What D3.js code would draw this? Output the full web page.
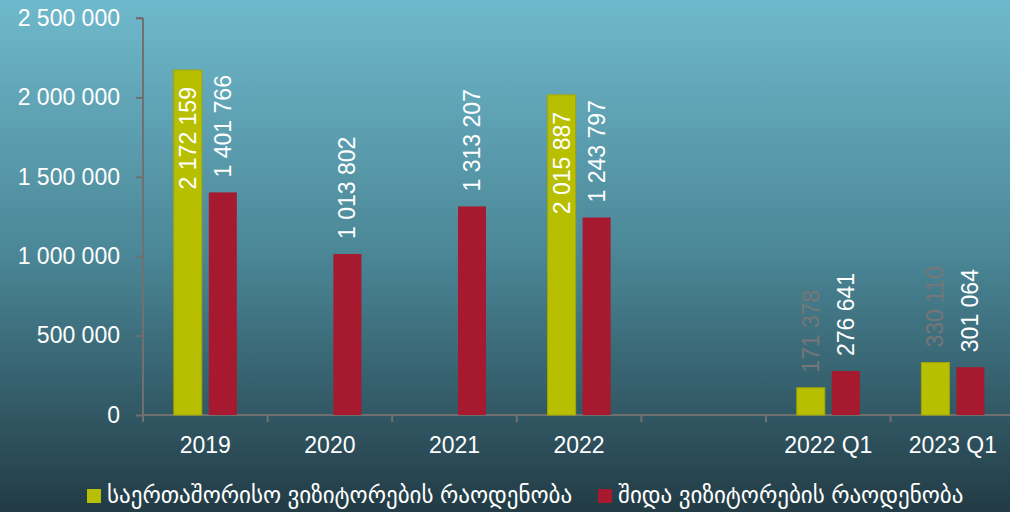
<!DOCTYPE html>
<html>
<head>
<meta charset="utf-8">
<script src="https://cdn.jsdelivr.net/npm/d3@7"></script>
<style>
  body { margin: 0; }
  svg { display: block; font-family: "Liberation Sans", Arial, "DejaVu Sans", sans-serif; }
</style>
</head>
<body>
<svg width="1010" height="512"></svg>
<script>
// chart data
const categories = ["2019", "2020", "2021", "2022", "", "2022 Q1", "2023 Q1"];
const series = ["intl", "domestic"];
const seriesNames = ["საერთაშორისო ვიზიტორების რაოდენობა", "შიდა ვიზიტორების რაოდენობა"];
const intlValues = [2172159, null, null, 2015887, null, 171378, 330110];
const domesticValues = [1401766, 1013802, 1313207, 1243797, null, 276641, 301064];
const yTicks = [0, 500000, 1000000, 1500000, 2000000, 2500000];

const color = { intl: "#b8bf00", domestic: "#a6192e" };

const svg = d3.select("svg"),
    W = 1010, H = 512,
    margin = { top: 18, left: 143, bottom: 97 },
    plotBottom = H - margin.bottom;

// background gradient
const defs = svg.append("defs");
const grad = defs.append("linearGradient")
    .attr("id", "bg").attr("x1", 0).attr("y1", 0).attr("x2", 0).attr("y2", 1);
grad.append("stop").attr("offset", "0%").attr("stop-color", "#6fb9cc");
grad.append("stop").attr("offset", "50%").attr("stop-color", "#4a8696");
grad.append("stop").attr("offset", "100%").attr("stop-color", "#223b45");
svg.append("rect").attr("width", W).attr("height", H).attr("fill", "url(#bg)");

const x = d3.scaleBand()
    .domain(categories.map((c, i) => i))
    .range([margin.left, margin.left + 7 * 124.6]);

const y = d3.scaleLinear()
    .domain([0, 2500000])
    .range([plotBottom, margin.top]);

const groupW = 63;
const xSub = d3.scaleBand()
    .domain(series)
    .range([x.bandwidth() / 2 - groupW / 2, x.bandwidth() / 2 + groupW / 2])
    .paddingInner(0.2);

const fmt = d3.formatLocale({ decimal: ",", thousands: " ", grouping: [3], currency: ["", ""] }).format(",d");

// y axis
const yAxis = svg.append("g")
    .attr("transform", `translate(${margin.left},0)`)
    .call(d3.axisLeft(y).tickValues(yTicks).tickSize(7).tickPadding(16).tickFormat(fmt));
yAxis.select(".domain").attr("stroke", "#707070").attr("stroke-width", 2).attr("d", `M0,${y(2500000)}V${plotBottom}M-7,${y(2500000)}H0`);
yAxis.selectAll(".tick line").attr("stroke", "#707070").attr("stroke-width", 2);
yAxis.selectAll(".tick text").attr("fill", "#fff").style("font-size", "23px");

// x axis line and boundary ticks
const xAxis = svg.append("g");
xAxis.append("line")
    .attr("x1", margin.left).attr("x2", x.range()[1])
    .attr("y1", plotBottom).attr("y2", plotBottom)
    .attr("stroke", "#707070").attr("stroke-width", 2);
xAxis.selectAll(".xt")
    .data(d3.range(categories.length + 1))
    .enter().append("line")
    .attr("x1", i => margin.left + i * x.step())
    .attr("x2", i => margin.left + i * x.step())
    .attr("y1", plotBottom).attr("y2", plotBottom + 7)
    .attr("stroke", "#707070").attr("stroke-width", 2);
xAxis.selectAll(".xl")
    .data(categories)
    .enter().append("text")
    .attr("x", (d, i) => x(i) + x.bandwidth() / 2)
    .attr("y", 453)
    .attr("text-anchor", "middle")
    .attr("fill", "#fff")
    .style("font-size", "23px")
    .text(d => d);

// bars
const rows = categories.map((c, i) => ({ i, intl: intlValues[i], domestic: domesticValues[i] }));
const groups = svg.selectAll(".grp")
    .data(rows)
    .enter().append("g")
    .attr("transform", d => `translate(${x(d.i)},0)`);

groups.selectAll("rect")
    .data(d => series.map(s => ({ s, v: d[s] })).filter(e => e.v != null))
    .enter().append("rect")
    .attr("x", d => xSub(d.s))
    .attr("width", xSub.bandwidth())
    .attr("y", d => y(d.v))
    .attr("height", d => plotBottom - y(d.v))
    .attr("fill", d => color[d.s])
    .attr("stroke", d => d.s === "intl" ? "#a2a800" : "none")
    .attr("stroke-width", 1);

// value labels (rotated)
groups.selectAll(".lbl")
    .data(d => series.map(s => ({ s, v: d[s] })).filter(e => e.v != null))
    .enter().append("text")
    .attr("transform", d => {
        const cx = xSub(d.s) + xSub.bandwidth() / 2;
        const inside = d.s === "intl" && d.v > 1000000;
        const yy = inside ? y(d.v) + 17 : y(d.v) - 15;
        return `translate(${cx},${yy}) rotate(-90)`;
    })
    .attr("text-anchor", d => (d.s === "intl" && d.v > 1000000) ? "end" : "start")
    .attr("dominant-baseline", "central")
    .attr("fill", d => (d.s === "intl" && d.v < 1000000) ? "#767676" : "#fff")
    .style("font-size", "23px")
    .text(d => fmt(d.v));

// legend
const legendX = [87, 598];
const legend = svg.selectAll(".leg")
    .data(series)
    .enter().append("g")
    .attr("transform", (d, i) => `translate(${legendX[i]},489)`);
legend.append("rect").attr("width", 14).attr("height", 14).attr("fill", d => color[d]);
legend.append("text")
    .attr("x", 20).attr("y", 14)
    .attr("fill", "#fff")
    .style("font-size", "23px")
    .text((d, i) => seriesNames[i]);
</script>
</body>
</html>
